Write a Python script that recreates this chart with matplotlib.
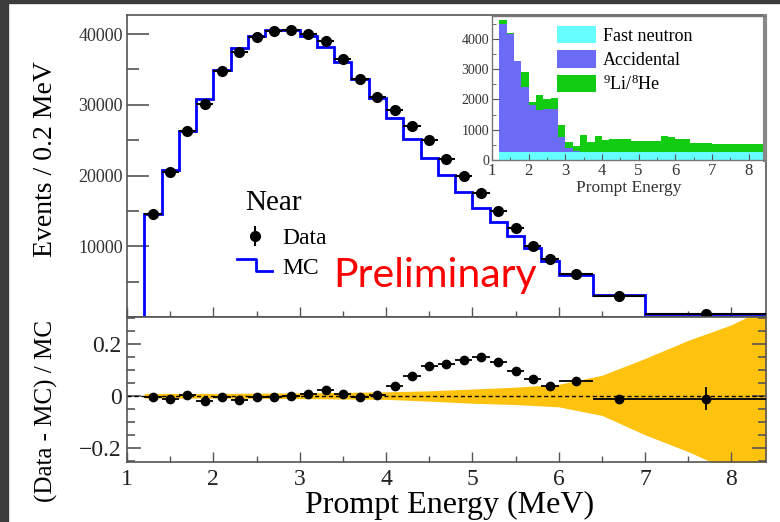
import numpy as np
import matplotlib.pyplot as plt
from matplotlib.lines import Line2D
from matplotlib.legend_handler import HandlerBase
from matplotlib.ticker import MultipleLocator, FuncFormatter
from matplotlib.patches import Rectangle

plt.rcParams['font.family'] = ['Liberation Serif', 'DejaVu Serif']
plt.rcParams['mathtext.fontset'] = 'custom'
plt.rcParams['mathtext.rm'] = 'Liberation Serif'
plt.rcParams['mathtext.it'] = 'Liberation Serif:italic'

# main spectrum: bin edges (MeV), MC and data (events / 0.2 MeV)
edges = [1.2, 1.4, 1.6, 1.8, 2.0, 2.2, 2.4, 2.6, 2.8, 3.0, 3.2, 3.4, 3.6, 3.8, 4.0,
         4.2, 4.4, 4.6, 4.8, 5.0, 5.2, 5.4, 5.6, 5.8, 6.0, 6.4, 7.0, 8.4]
mc = [14550, 20750, 26300, 30800, 34950, 38000, 39800, 40600, 40600, 39700, 38200,
      36100, 33600, 30900, 28100, 25200, 22550, 20050, 17700, 15350, 13450, 11400,
      9700, 7900, 5960, 3140, 400]
data = [14500, 20560, 26340, 30140, 34790, 37460, 39580, 40420, 40560, 40000, 39000,
        36480, 33660, 31130, 29300, 27040, 25070, 22390, 19960, 17600, 15030, 12540,
        10100, 8210, 6100, 2920, 460]

# (Data - MC) / MC
ratio = [-0.005, -0.010, 0.002, -0.020, -0.005, -0.015, -0.005, -0.005, 0.000, 0.008,
         0.022, 0.008, -0.002, 0.003, 0.037, 0.076, 0.116, 0.124, 0.139, 0.152, 0.133,
         0.096, 0.064, 0.038, 0.057, -0.010, -0.010]
ratio_err = [0.005, 0.005, 0.005, 0.005, 0.005, 0.005, 0.005, 0.005, 0.005, 0.005,
             0.005, 0.005, 0.005, 0.005, 0.005, 0.005, 0.005, 0.005, 0.005, 0.005,
             0.005, 0.005, 0.005, 0.005, 0.006, 0.012, 0.043]

# systematic band
band_x = [1.2, 2.0, 3.0, 4.0, 4.5, 5.0, 5.5, 6.0, 6.5, 7.0, 7.5, 8.0, 8.4]
band_hi = [0.010, 0.010, 0.012, 0.016, 0.020, 0.027, 0.034, 0.045, 0.080, 0.145,
           0.215, 0.275, 0.340]
band_lo = [-0.008, -0.008, -0.010, -0.013, -0.020, -0.028, -0.033, -0.042, -0.075,
           -0.150, -0.215, -0.290, -0.340]

# inset: backgrounds
bkg_edges = [1.2, 1.4, 1.6, 1.8, 2.0, 2.2, 2.4, 2.6, 2.8, 3.0, 3.2, 3.4, 3.6, 3.8,
             4.0, 4.2, 4.8, 5.6, 5.8, 6.0, 6.4, 7.0, 8.45]
fast_n = [250, 250, 250, 250, 250, 250, 250, 250, 250, 250, 250, 250, 250, 250, 250,
          250, 250, 250, 250, 250, 250, 250]
accid = [4230, 3920, 3000, 2150, 1580, 1390, 1440, 1440, 520, 160, 50, 10, 0, 0, 0,
         0, 0, 0, 0, 0, 0, 0]
lihe = [140, 30, 30, 500, 70, 520, 310, 360, 370, 190, 170, 550, 360, 550, 420,
        440, 385, 530, 500, 440, 310, 275]

edges_a = np.array(edges)
centers = (edges_a[1:] + edges_a[:-1]) / 2
half = (edges_a[1:] - edges_a[:-1]) / 2
bk = np.array(bkg_edges)
bk_centers = (bk[1:] + bk[:-1]) / 2

frame_col = '#555555'


class StepHandler(HandlerBase):
    def create_artists(self, legend, orig_handle, xdescent, ydescent, width, height,
                       fontsize, trans):
        x0, y0 = -xdescent, -ydescent
        xs = [x0, x0 + 0.55 * width, x0 + 0.55 * width, x0 + width]
        ys = [y0 + 0.85 * height, y0 + 0.85 * height, y0 + 0.15 * height, y0 + 0.15 * height]
        line = Line2D(xs, ys, color='#0000ff', lw=2)
        line.set_transform(trans)
        return [line]


fig = plt.figure(figsize=(7.8, 5.22), dpi=100)
ax = fig.add_axes([0.1628, 0.3927, 0.8192, 0.5785])
axr = fig.add_axes([0.1628, 0.1149, 0.8192, 0.2778])
axi = fig.add_axes([0.6308, 0.6935, 0.3500, 0.2758])

# ---- main panel
ax.stairs(mc, edges, color='#0000ff', lw=2, baseline=0, zorder=2)
ax.errorbar(centers, data, xerr=half, fmt='o', color='k', ms=7, elinewidth=1.5,
            capsize=0, zorder=3)
ax.set_xlim(1, 8.4)
ax.set_ylim(0, 42700)
ax.xaxis.set_major_locator(MultipleLocator(1))
ax.xaxis.set_minor_locator(MultipleLocator(0.5))
ax.yaxis.set_major_locator(MultipleLocator(10000))
ax.yaxis.set_minor_locator(MultipleLocator(5000))
ax.yaxis.set_major_formatter(FuncFormatter(lambda v, p: '' if v == 0 else f'{int(v)}'))
ax.tick_params(axis='x', which='both', direction='in', labelbottom=False, colors=frame_col)
ax.tick_params(axis='x', which='major', length=7, width=1)
ax.tick_params(axis='x', which='minor', length=4.3, width=1)
ax.tick_params(axis='y', which='both', direction='in', colors=frame_col, labelcolor='#333333')
ax.tick_params(axis='y', which='major', length=16, width=1.2, labelsize=13, pad=3)
ax.tick_params(axis='y', which='minor', length=8.6, width=1.2)
ax.set_ylabel('Events / 0.2 MeV', fontsize=20)
ax.yaxis.set_label_coords(-0.108, 0.523)
for s in ax.spines.values():
    s.set_color(frame_col)
    s.set_linewidth(1.2)

ax.text(0.185, 0.377, 'Near', transform=ax.transAxes, fontsize=21, ha='left',
        va='center')
dot = Line2D([], [], marker='o', color='k', ls='none', ms=7)
vbar = Line2D([], [], marker='|', color='k', ls='none', ms=15, mew=1.5)
step_proxy = Line2D([], [], color='#0000ff', lw=2)
leg = ax.legend(handles=[(dot, vbar), step_proxy], labels=['Data', 'MC'],
                handler_map={step_proxy: StepHandler()},
                fontsize=17, frameon=False,
                loc='upper left', bbox_to_anchor=(0.172, 0.295),
                handlelength=1.5, handletextpad=0.42, labelspacing=0.32,
                borderaxespad=0, borderpad=0)

fig.text(333 / 780, 1 - 287 / 522, 'Preliminary', color='red', fontsize=29.5,
         family='Lato', va='baseline', ha='left')

# ---- ratio panel
axr.fill_between(band_x, band_lo, band_hi, color='#FFC20E', lw=0, zorder=1)
axr.axhline(0, color='k', ls=(0, (3, 2)), lw=1, zorder=2)
axr.errorbar(centers, ratio, xerr=half, yerr=ratio_err, fmt='o', color='k', ms=6,
             elinewidth=1.3, capsize=0, zorder=3)
axr.set_xlim(1, 8.4)
axr.set_ylim(-0.255, 0.305)
axr.xaxis.set_major_locator(MultipleLocator(1))
axr.xaxis.set_minor_locator(MultipleLocator(0.5))
axr.yaxis.set_major_locator(MultipleLocator(0.2))
axr.yaxis.set_minor_locator(MultipleLocator(0.05))
axr.yaxis.set_major_formatter(
    FuncFormatter(lambda v, p: '0' if abs(v) < 1e-9 else f'{v:.1f}'.replace('-', '\u2212')))
axr.tick_params(axis='both', which='both', direction='in', colors=frame_col,
                labelcolor='#222222')
axr.tick_params(axis='y', which='both', left=True, right=True)
axr.tick_params(axis='y', which='major', length=10, width=1.2, labelsize=17, pad=4)
axr.tick_params(axis='y', which='minor', length=6, width=1.2)
axr.tick_params(axis='x', which='major', length=7, width=1, labelsize=17, pad=5)
axr.tick_params(axis='x', which='minor', length=4, width=1)
axr.set_xlabel('Prompt Energy (MeV)', fontsize=23)
axr.xaxis.set_label_coords(0.505, -0.2)
axr.set_ylabel('(Data - MC) / MC', fontsize=18)
axr.yaxis.set_label_coords(-0.108, 0.35)
for s in axr.spines.values():
    s.set_color(frame_col)
    s.set_linewidth(1.2)

# ---- inset
axi.hist([bk_centers, bk_centers, bk_centers], bins=bkg_edges,
         weights=[fast_n, accid, lihe], stacked=True, histtype='stepfilled',
         color=['#66FFFF', '#6B6BF5', '#11CC11'], lw=0,
         label=['Fast neutron', 'Accidental', r'$^{9}$Li/$^{8}$He'])
axi.set_xlim(1, 8.45)
axi.set_ylim(0, 4750)
axi.xaxis.set_major_locator(MultipleLocator(1))
axi.xaxis.set_minor_locator(MultipleLocator(0.5))
axi.yaxis.set_major_locator(MultipleLocator(1000))
axi.yaxis.set_minor_locator(MultipleLocator(500))
axi.tick_params(axis='both', which='both', direction='in', colors=frame_col,
                labelcolor='#333333')
axi.tick_params(axis='x', which='major', length=4, labelsize=12, pad=2)
axi.tick_params(axis='x', which='minor', length=2.5)
axi.tick_params(axis='y', which='major', length=5, labelsize=10, pad=2)
axi.tick_params(axis='y', which='minor', length=3)
axi.set_xlabel('Prompt Energy', fontsize=12.5, labelpad=1, color='#333333')
for s in axi.spines.values():
    s.set_color('#777777')
    s.set_linewidth(1)
axi.spines['right'].set_linewidth(3)
axi.spines['right'].set_color('#888888')
h, l = axi.get_legend_handles_labels()
axi.legend(h[::-1], l[::-1], loc='upper left', bbox_to_anchor=(0.2, 1.0),
           frameon=False, fontsize=13, handlelength=2.2, handleheight=1.1,
           labelspacing=0.3, handletextpad=0.35, borderaxespad=0.15)

# dark screen edges
fig.patches.append(Rectangle((0, 1 - 3 / 522), 1, 3 / 522, transform=fig.transFigure,
                             color='#3c3c3c', zorder=10))
fig.patches.append(Rectangle((0, 0), 8 / 780, 1, transform=fig.transFigure,
                             color='#3c3c3c', zorder=10))

fig.savefig('out.png', dpi=100)
